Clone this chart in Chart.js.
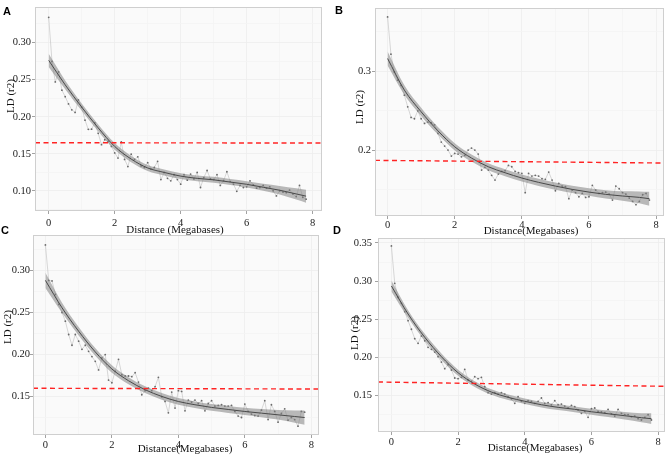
<!DOCTYPE html>
<html>
<head>
<meta charset="utf-8">
<script src="https://cdn.jsdelivr.net/npm/chart.js@4.4.1/dist/chart.umd.min.js"></script>
<style>
  body { margin: 0; background: #fff; }
  #wrap { position: relative; width: 669px; height: 456px; overflow: hidden; }
  canvas { position: absolute; }
  .ttl { position: absolute; font-family: "Liberation Serif", serif; font-size: 11px; line-height: 1; color: #111; white-space: nowrap; transform: translate(-50%, -50%); }
  .rot { transform: translate(-50%, -50%) rotate(-90deg); }
  .tag { position: absolute; font-family: "Liberation Sans", Arial, sans-serif; font-weight: bold; font-size: 11px; line-height: 1; color: #000; transform: translate(-50%, -50%); }
</style>
</head>
<body>
<div id="wrap">
  <canvas id="chart_a" width="330" height="240" style="left:0px;top:0px"></canvas>
  <canvas id="chart_b" width="335" height="240" style="left:334px;top:0px"></canvas>
  <canvas id="chart_c" width="330" height="228" style="left:0px;top:228px"></canvas>
  <canvas id="chart_d" width="335" height="228" style="left:334px;top:228px"></canvas>

  <div class="tag" style="left:7px;top:11px">A</div>
  <div class="tag" style="left:339px;top:10px">B</div>
  <div class="tag" style="left:5px;top:230px">C</div>
  <div class="tag" style="left:337px;top:230px">D</div>

  <div class="ttl rot" style="left:10px;top:96px">LD (r2)</div>
  <div class="ttl rot" style="left:359px;top:107px">LD (r2)</div>
  <div class="ttl rot" style="left:7px;top:327px">LD (r2)</div>
  <div class="ttl rot" style="left:354px;top:333px">LD (r2)</div>

  <div class="ttl" style="left:175px;top:229px">Distance (Megabases)</div>
  <div class="ttl" style="left:531px;top:230px">Distance(Megabases)</div>
  <div class="ttl" style="left:185px;top:448px">Distance(Megabases)</div>
  <div class="ttl" style="left:535px;top:447px">Distance(Megabases)</div>
</div>

<script>
// distance bins (Mb) shared by all four panels
const distance_mb = [0, 0.1, 0.2, 0.3, 0.4, 0.5, 0.6, 0.7, 0.8, 0.9,
  1.0, 1.1, 1.2, 1.3, 1.4, 1.5, 1.6, 1.7, 1.8, 1.9,
  2.0, 2.1, 2.2, 2.3, 2.4, 2.5, 2.6, 2.7, 2.8, 2.9,
  3.0, 3.1, 3.2, 3.3, 3.4, 3.5, 3.6, 3.7, 3.8, 3.9,
  4.0, 4.1, 4.2, 4.3, 4.4, 4.5, 4.6, 4.7, 4.8, 4.9,
  5.0, 5.1, 5.2, 5.3, 5.4, 5.5, 5.6, 5.7, 5.8, 5.9,
  6.0, 6.1, 6.2, 6.3, 6.4, 6.5, 6.6, 6.7, 6.8, 6.9,
  7.0, 7.1, 7.2, 7.3, 7.4, 7.5, 7.6, 7.7, 7.8];

// mean r2 per bin
const ld_a = [0.334, 0.2745, 0.247, 0.2604, 0.2358, 0.227, 0.2173, 0.2094, 0.2059, 0.2226,
  0.213, 0.1954, 0.183, 0.1833, 0.1918, 0.1777, 0.1624, 0.169, 0.1668, 0.160,
  0.1513, 0.1443, 0.166, 0.1425, 0.1329, 0.1496, 0.1425, 0.146, 0.1337, 0.1316,
  0.1381, 0.1294, 0.1316, 0.1399, 0.1153, 0.125, 0.117, 0.1136, 0.1219, 0.1153,
  0.1091, 0.1219, 0.1145, 0.1228, 0.1162, 0.125, 0.1047, 0.118, 0.1276, 0.1162,
  0.1153, 0.1219, 0.1074, 0.114, 0.1259, 0.1127, 0.1091, 0.0995, 0.1074, 0.1047,
  0.1056, 0.1136, 0.1083, 0.1038, 0.1047, 0.1074, 0.1038, 0.1056, 0.1003, 0.0933,
  0.1003, 0.0986, 0.0977, 0.1012, 0.096, 0.0924, 0.1074, 0.0915, 0.0889];

const ld_b = [0.3687, 0.3215, 0.299, 0.2886, 0.2819, 0.2696, 0.2548, 0.2414, 0.2397, 0.2498,
  0.2397, 0.2338, 0.2355, 0.2346, 0.232, 0.2211, 0.2101, 0.2051, 0.200, 0.1924,
  0.1958, 0.1949, 0.1915, 0.1932, 0.200, 0.2025, 0.200, 0.1949, 0.1747, 0.1781,
  0.1747, 0.168, 0.162, 0.1696, 0.173, 0.1739, 0.1806, 0.1789, 0.173, 0.1713,
  0.1705, 0.146, 0.1705, 0.1671, 0.168, 0.1671, 0.1637, 0.1629, 0.1722, 0.162,
  0.1485, 0.1578, 0.1544, 0.1536, 0.1384, 0.1494, 0.146, 0.1409, 0.1451, 0.140,
  0.1409, 0.1553, 0.1494, 0.1451, 0.146, 0.1468, 0.1443, 0.1367, 0.1544, 0.151,
  0.146, 0.1443, 0.1392, 0.135, 0.1308, 0.135, 0.1434, 0.1451, 0.1367];

const ld_c = [0.3302, 0.288, 0.2873, 0.2713, 0.2594, 0.2498, 0.2395, 0.2236, 0.2108, 0.2236,
  0.2156, 0.206, 0.2108, 0.2036, 0.1973, 0.1917, 0.1814, 0.1957, 0.1997, 0.1694,
  0.1662, 0.1798, 0.1941, 0.1758, 0.1742, 0.1742, 0.1734, 0.1782, 0.167, 0.1519,
  0.1567, 0.1599, 0.1567, 0.1615, 0.1726, 0.1495, 0.1439, 0.1304, 0.1551, 0.136,
  0.1567, 0.1559, 0.1328, 0.1456, 0.1432, 0.1456, 0.1415, 0.1448, 0.1328, 0.1415,
  0.1448, 0.1384, 0.1392, 0.140, 0.1384, 0.1384, 0.1392, 0.132, 0.1265, 0.1248,
  0.1408, 0.132, 0.1288, 0.1272, 0.1265, 0.1336, 0.1448, 0.1224, 0.140, 0.132,
  0.1193, 0.1296, 0.1352, 0.1216, 0.1248, 0.1224, 0.1145, 0.132, 0.1312];

const ld_d = [0.3461, 0.2972, 0.2789, 0.271, 0.260, 0.2482, 0.237, 0.2247, 0.2186, 0.2282,
  0.222, 0.2134, 0.2108, 0.2072, 0.2011, 0.1941, 0.1854, 0.1906, 0.1837, 0.1732,
  0.1723, 0.1741, 0.1846, 0.1706, 0.1688, 0.1749, 0.1723, 0.1741, 0.1618, 0.154,
  0.1522, 0.154, 0.1522, 0.154, 0.1522, 0.1487, 0.146, 0.140, 0.1487, 0.1427,
  0.140, 0.1435, 0.1427, 0.140, 0.1427, 0.147, 0.140, 0.1409, 0.1382, 0.1435,
  0.1382, 0.1391, 0.1365, 0.1339, 0.1373, 0.1356, 0.1313, 0.127, 0.1295, 0.1217,
  0.133, 0.1339, 0.1295, 0.1287, 0.1278, 0.1321, 0.1261, 0.1234, 0.1321, 0.127,
  0.1252, 0.1252, 0.1225, 0.1234, 0.1199, 0.1182, 0.1217, 0.1252, 0.1182];

// smoothed curve and its confidence band
const fit_x = [0, 0.5, 1, 1.5, 2, 2.5, 3, 3.5, 4, 4.5, 5, 5.5, 6, 6.5, 7, 7.5, 7.8];

const fit_a = [0.276, 0.243, 0.213, 0.185, 0.160, 0.143, 0.131, 0.125, 0.120, 0.117, 0.115, 0.112, 0.109, 0.105, 0.101, 0.096, 0.093];
const lo_a = [0.267, 0.237, 0.208, 0.1805, 0.1555, 0.1388, 0.127, 0.121, 0.116, 0.113, 0.111, 0.108, 0.1048, 0.1002, 0.0952, 0.0885, 0.0842];
const hi_a = [0.285, 0.249, 0.218, 0.1895, 0.1645, 0.1472, 0.135, 0.129, 0.124, 0.121, 0.119, 0.116, 0.1132, 0.1098, 0.1068, 0.1035, 0.1018];

const fit_b = [0.316, 0.276, 0.2485, 0.2244, 0.2042, 0.1899, 0.1789, 0.1713, 0.1646, 0.1591, 0.1544, 0.1502, 0.1468, 0.1439, 0.1418, 0.1401, 0.1384];
const lo_b = [0.307, 0.2698, 0.2433, 0.2196, 0.1996, 0.1854, 0.1745, 0.1669, 0.1601, 0.1546, 0.1499, 0.1456, 0.142, 0.1386, 0.1358, 0.1326, 0.1296];
const hi_b = [0.325, 0.2822, 0.2537, 0.2292, 0.2088, 0.1944, 0.1833, 0.1757, 0.1691, 0.1636, 0.1589, 0.1548, 0.1516, 0.1492, 0.1478, 0.1476, 0.1472];

const fit_c = [0.288, 0.2554, 0.2275, 0.2029, 0.1826, 0.1686, 0.1579, 0.1499, 0.1439, 0.140, 0.1368, 0.1344, 0.132, 0.130, 0.128, 0.126, 0.1248];
const lo_c = [0.279, 0.2494, 0.2225, 0.1984, 0.1782, 0.1644, 0.1539, 0.1459, 0.1399, 0.136, 0.1328, 0.1303, 0.1277, 0.1252, 0.1223, 0.1187, 0.1163];
const hi_c = [0.297, 0.2614, 0.2325, 0.2074, 0.187, 0.1728, 0.1619, 0.1539, 0.1479, 0.144, 0.1408, 0.1385, 0.1363, 0.1348, 0.1337, 0.1333, 0.1333];

const fit_d = [0.2937, 0.257, 0.2265, 0.2011, 0.1801, 0.1653, 0.1548, 0.1479, 0.1427, 0.1382, 0.1348, 0.1322, 0.129, 0.1264, 0.1238, 0.1212, 0.1199];
const lo_d = [0.2865, 0.252, 0.222, 0.1969, 0.1761, 0.1615, 0.1512, 0.1443, 0.1391, 0.1346, 0.1312, 0.1285, 0.1251, 0.1221, 0.1188, 0.1152, 0.1129];
const hi_d = [0.3009, 0.262, 0.231, 0.2053, 0.1841, 0.1691, 0.1584, 0.1515, 0.1463, 0.1418, 0.1384, 0.1359, 0.1329, 0.1307, 0.1288, 0.1272, 0.1269];

// red dashed threshold, value at left and right edge of the panel
const cut_a = [0.165, 0.1646];
const cut_b = [0.187, 0.1836];
const cut_c = [0.1596, 0.1587];
const cut_d = [0.168, 0.1623];

// tick labels
const x_ticks = [0, 2, 4, 6, 8];
const y_ticks_a = [0.10, 0.15, 0.20, 0.25, 0.30];
const y_ticks_b = [0.2, 0.3];
const y_ticks_c = [0.15, 0.20, 0.25, 0.30];
const y_ticks_d = [0.15, 0.20, 0.25, 0.30, 0.35];


// panel layout (pixels) and axis ranges
const panels = [
  { id: "chart_a", ld: ld_a, fit: fit_a, lo: lo_a, hi: hi_a, cut: cut_a, y_ticks: y_ticks_a, dec: 2,
    x_min: -0.415, x_max: 8.282, y_min: 0.073, y_max: 0.3475,
    pad_top: 3, pad_right: 8, y_w: 35, x_h: 29, x_pad: 3, y_pad: 1 },
  { id: "chart_b", ld: ld_b, fit: fit_b, lo: lo_b, hi: hi_b, cut: cut_b, y_ticks: y_ticks_b, dec: 1,
    x_min: -0.375, x_max: 8.235, y_min: 0.1165, y_max: 0.38,
    pad_top: 8, pad_right: 5, y_w: 41, x_h: 24, x_pad: 0, y_pad: 1 },
  { id: "chart_c", ld: ld_c, fit: fit_c, lo: lo_c, hi: hi_c, cut: cut_c, y_ticks: y_ticks_c, dec: 2,
    x_min: -0.373, x_max: 8.232, y_min: 0.104, y_max: 0.342,
    pad_top: 7, pad_right: 11, y_w: 33, x_h: 21, x_pad: 1, y_pad: 0 },
  { id: "chart_d", ld: ld_d, fit: fit_d, lo: lo_d, hi: hi_d, cut: cut_d, y_ticks: y_ticks_d, dec: 2,
    x_min: -0.402, x_max: 8.207, y_min: 0.1025, y_max: 0.3565,
    pad_top: 10, pad_right: 4, y_w: 44, x_h: 24, x_pad: 1, y_pad: 3 }
];

// grey panel background and frame
const frame_plugin = {
  id: "frame",
  beforeDraw(chart) {
    const a = chart.chartArea;
    const ctx = chart.ctx;
    ctx.save();
    ctx.fillStyle = "#fafafa";
    ctx.fillRect(a.left, a.top, a.right - a.left, a.bottom - a.top);
    ctx.restore();
  },
  afterDraw(chart) {
    const a = chart.chartArea;
    const ctx = chart.ctx;
    ctx.save();
    ctx.strokeStyle = "#cfcfcf";
    ctx.lineWidth = 1;
    ctx.strokeRect(Math.round(a.left) + 0.5, Math.round(a.top) + 0.5,
      Math.round(a.right - a.left) - 1, Math.round(a.bottom - a.top) - 1);
    ctx.restore();
  }
};

function to_points(xs, ys) {
  return xs.map((x, i) => ({ x: x, y: ys[i] }));
}

// major ticks plus minor ones half way between (grid only)
function with_minor(major, lo, hi) {
  const step = major[1] - major[0];
  const out = [];
  for (let v = major[0] - 2 * step; v <= hi + 1e-9; v += step / 2) {
    if (v >= lo - 1e-9) out.push({ value: +v.toFixed(4) });
  }
  return out;
}

function is_major(v, major) {
  return major.some(m => Math.abs(m - v) < 1e-6);
}

function make_chart(p) {
  const tick_font = { family: "Liberation Serif", size: 10.5 };

  return new Chart(document.getElementById(p.id), {
    type: "line",
    data: {
      datasets: [
        { label: "cut", data: [{ x: p.x_min, y: p.cut[0] }, { x: p.x_max, y: p.cut[1] }],
          borderColor: "#ff2424", borderWidth: 1.4, borderDash: [5, 3.5], pointRadius: 0, order: 0 },
        { label: "fit", data: to_points(fit_x, p.fit), borderColor: "#4a4a4a", borderWidth: 1,
          pointRadius: 0, cubicInterpolationMode: "monotone", order: 1 },
        { label: "lo", data: to_points(fit_x, p.lo), borderWidth: 0,
          pointRadius: 0, cubicInterpolationMode: "monotone", fill: false, order: 3 },
        { label: "hi", data: to_points(fit_x, p.hi), borderWidth: 0,
          pointRadius: 0, cubicInterpolationMode: "monotone", fill: "-1",
          backgroundColor: "rgba(130,130,130,0.55)", order: 2 },
        { label: "ld", data: to_points(distance_mb, p.ld), borderColor: "#bdbdbd", borderWidth: 0.6,
          pointRadius: 0.9, pointBackgroundColor: "#6a6a6a", pointBorderWidth: 0, tension: 0, order: 4 }
      ]
    },
    options: {
      responsive: false,
      animation: false,
      layout: { padding: { left: 0, top: p.pad_top, right: p.pad_right, bottom: 0 } },
      plugins: { legend: { display: false }, tooltip: { enabled: false } },
      scales: {
        x: {
          type: "linear", min: p.x_min, max: p.x_max,
          afterFit: s => { s.height = p.x_h; },
          afterBuildTicks: s => { s.ticks = with_minor(x_ticks, p.x_min, p.x_max); },
          border: { display: false },
          grid: {
            color: c => is_major(c.tick.value, x_ticks) ? "#ededed" : "#f4f4f4",
            lineWidth: 0.8, tickLength: 3,
            tickColor: c => is_major(c.tick.value, x_ticks) ? "#8a8a8a" : "rgba(0,0,0,0)"
          },
          ticks: {
            autoSkip: false, maxRotation: 0, padding: p.x_pad, color: "#1a1a1a", font: tick_font,
            callback: v => is_major(v, x_ticks) ? String(Math.round(v)) : ""
          }
        },
        y: {
          type: "linear", min: p.y_min, max: p.y_max,
          afterFit: s => { s.width = p.y_w; },
          afterBuildTicks: s => { s.ticks = with_minor(p.y_ticks, p.y_min, p.y_max); },
          border: { display: false },
          grid: {
            color: c => is_major(c.tick.value, p.y_ticks) ? "#ededed" : "#f4f4f4",
            lineWidth: 0.8, tickLength: 3,
            tickColor: c => is_major(c.tick.value, p.y_ticks) ? "#8a8a8a" : "rgba(0,0,0,0)"
          },
          ticks: {
            autoSkip: false, padding: p.y_pad, color: "#1a1a1a", font: tick_font,
            callback: v => is_major(v, p.y_ticks) ? v.toFixed(p.dec) : ""
          }
        }
      }
    },
    plugins: [frame_plugin]
  });
}

function mainEvent() {
  panels.forEach(p => make_chart(p));
}

document.addEventListener("DOMContentLoaded", () => mainEvent());
</script>
</body>
</html>
